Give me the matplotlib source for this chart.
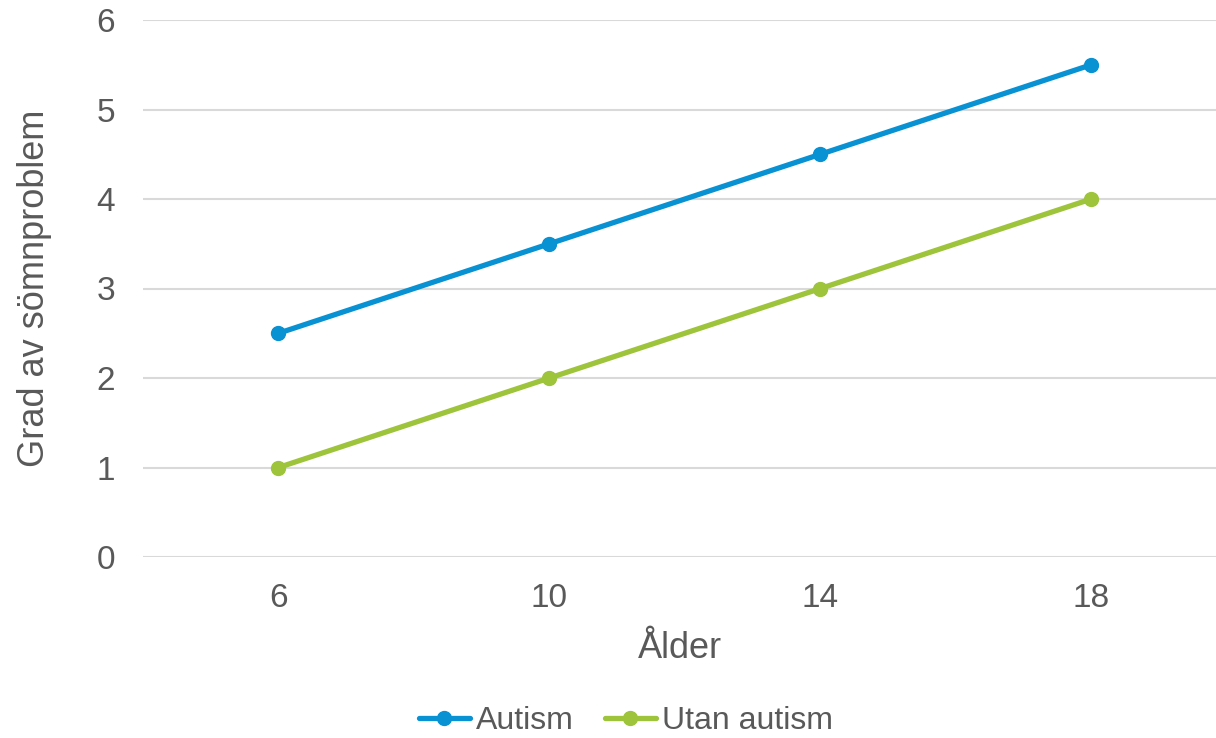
import numpy as np
import matplotlib.pyplot as plt

plt.rcParams['font.family'] = ['Liberation Sans', 'DejaVu Sans']

# age groups and sleep problem scores
ages = ['6', '10', '14', '18']
autism = [2.5, 3.5, 4.5, 5.5]
no_autism = [1.0, 2.0, 3.0, 4.0]

grey = '#595959'
blue = '#0891d3'
green = '#9dc43b'

fig = plt.figure(figsize=(12.16, 7.38), dpi=100)
ax = fig.add_axes([143 / 1216, 181 / 738, 1073 / 1216, 537 / 738])

x = np.arange(len(ages))
ax.plot(x, autism, color=blue, lw=3.8, marker='o', ms=10, label='Autism',
        solid_capstyle='round', zorder=3)
ax.plot(x, no_autism, color=green, lw=3.8, marker='o', ms=10, label='Utan autism',
        solid_capstyle='round', zorder=3)

ax.set_xlim(-0.5, 3.46)
ax.set_ylim(0, 6)
ax.set_xticks(x)
ax.set_xticklabels(ages)
ax.set_yticks(range(7))
ax.grid(axis='y', color='#d9d9d9', lw=1.5)
ax.set_axisbelow(True)
for s in ax.spines.values():
    s.set_visible(False)
ax.tick_params(length=0, labelsize=24, colors=grey)
ax.tick_params(axis='x', pad=19)
ax.tick_params(axis='y', pad=20)

ax.set_xlabel('Ålder', fontsize=26, color=grey, labelpad=12)
ax.set_ylabel('Grad av sömnproblem', fontsize=26, color=grey, labelpad=32)

fig.legend(loc='center', bbox_to_anchor=(626 / 1216, 17 / 738), ncol=2, frameon=False,
           fontsize=23, labelcolor=grey, handlelength=1.6, handletextpad=0.2,
           columnspacing=0.95)

fig.savefig('out.png', dpi=100)
